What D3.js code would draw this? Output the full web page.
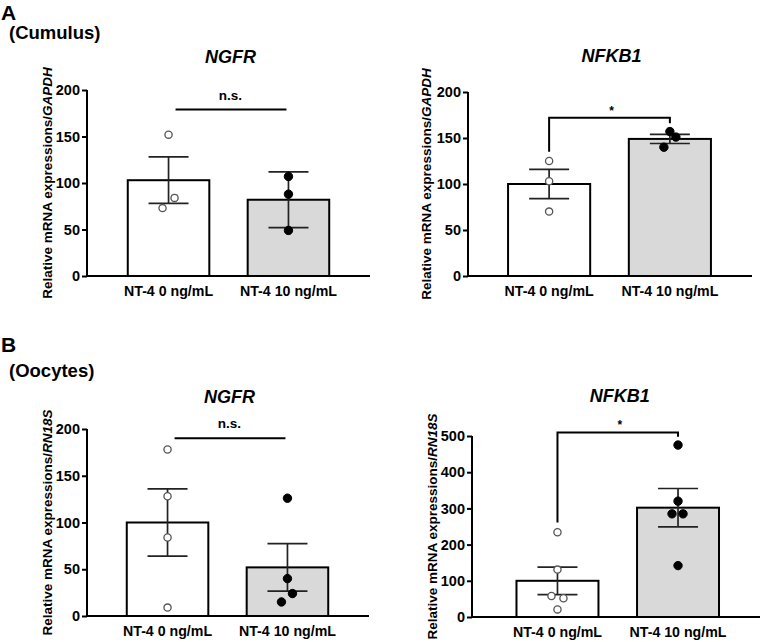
<!DOCTYPE html>
<html>
<head>
<meta charset="utf-8">
<script src="https://cdn.jsdelivr.net/npm/d3@7"></script>
<style>
  body { margin: 0; background: #fff; }
  svg text { font-family: "Liberation Sans", Arial, sans-serif; font-weight: bold; fill: #000; }
</style>
</head>
<body>
<div id="chart"></div>
<script>
// Groups on the x axis
var groups = ["NT-4 0 ng/mL", "NT-4 10 ng/mL"];

// (A) Cumulus - NGFR
var cumNgfrMean = [103, 82];
var cumNgfrSem = [25, 30];
var cumNgfrCtrlPts = [152, 84, 73];
var cumNgfrNt4Pts = [107, 88, 49];
var cumNgfrSig = ["n.s.", 179];

// (A) Cumulus - NFKB1
var cumNfkbMean = [100, 149];
var cumNfkbSem = [16, 5];
var cumNfkbCtrlPts = [125, 103, 70];
var cumNfkbNt4Pts = [157, 151, 140];
var cumNfkbSig = ["*", 172, 135, 166];

// (B) Oocytes - NGFR
var oocNgfrMean = [100, 52];
var oocNgfrSem = [36, 25.5];
var oocNgfrCtrlPts = [178, 128, 84, 9];
var oocNgfrNt4Pts = [126, 40, 24, 15];
var oocNgfrSig = ["n.s.", 190];

// (B) Oocytes - NFKB1
var oocNfkbMean = [100, 302];
var oocNfkbSem = [38, 53];
var oocNfkbCtrlPts = [234, 131, 58, 52, 21];
var oocNfkbNt4Pts = [475, 320, 285, 285, 142];
var oocNfkbSig = ["*", 510, 261, 498];

// Y ticks
var ticks200 = [0, 50, 100, 150, 200];
var ticks500 = [0, 100, 200, 300, 400, 500];

// Horizontal dodge of overlapping dots (pixels, layout only)
var cumNgfrJit = [[0, 6, -6], [0, 0, 0]];
var cumNfkbJit = [[0, 0, 0], [0, 6, -6]];
var oocNgfrJit = [[0, 0, 0, 0], [0, 0, 5, -6]];
var oocNfkbJit = [[0, 0, -6, 6, 0], [0, 0, -6, 5, 0]];

var width = 761, height = 642;

var svg = d3.select("#chart")
  .append("svg")
    .attr("width", width)
    .attr("height", height);

// Panel letters and tissue labels
svg.append("text").attr("x", 1).attr("y", 20).style("font-size", "21px").text("A");
svg.append("text").attr("x", 9).attr("y", 39).style("font-size", "18.5px").text("(Cumulus)");
svg.append("text").attr("x", 1).attr("y", 352).style("font-size", "21px").text("B");
svg.append("text").attr("x", 9).attr("y", 377).style("font-size", "18.5px").text("(Oocytes)");

var panels = [
  {title: "NGFR", ref: "GAPDH", mean: cumNgfrMean, sem: cumNgfrSem, pts: [cumNgfrCtrlPts, cumNgfrNt4Pts],
   jit: cumNgfrJit, sig: cumNgfrSig, ticks: ticks200,
   axisX: 87, band: [87, 370], y0: 276, y1: 90, titleY: 63, labelX: 52},
  {title: "NFKB1", ref: "GAPDH", mean: cumNfkbMean, sem: cumNfkbSem, pts: [cumNfkbCtrlPts, cumNfkbNt4Pts],
   jit: cumNfkbJit, sig: cumNfkbSig, ticks: ticks200,
   axisX: 468, band: [467, 752], y0: 276, y1: 92, titleY: 62, labelX: 431},
  {title: "NGFR", ref: "RN18S", mean: oocNgfrMean, sem: oocNgfrSem, pts: [oocNgfrCtrlPts, oocNgfrNt4Pts],
   jit: oocNgfrJit, sig: oocNgfrSig, ticks: ticks200,
   axisX: 87, band: [86, 369], y0: 616, y1: 429, titleY: 403, labelX: 52},
  {title: "NFKB1", ref: "RN18S", mean: oocNfkbMean, sem: oocNfkbSem, pts: [oocNfkbCtrlPts, oocNfkbNt4Pts],
   jit: oocNfkbJit, sig: oocNfkbSig, ticks: ticks500,
   axisX: 472, band: [475.5, 760], y0: 617, y1: 436, titleY: 402, labelX: 437}
];

panels.forEach(drawPanel);

function drawPanel(p) {
  var g = svg.append("g");

  var x = d3.scaleBand()
    .domain(groups)
    .range(p.band)
    .paddingInner(0.32)
    .paddingOuter(0.34);

  var y = d3.scaleLinear()
    .domain([0, d3.max(p.ticks)])
    .range([p.y0, p.y1]);

  var cx = function(i) { return x(groups[i]) + x.bandwidth() / 2; };

  // Bars
  g.selectAll(".bar")
    .data(p.mean)
    .enter().append("rect")
      .attr("x", function(d, i) { return x(groups[i]); })
      .attr("y", function(d) { return y(d); })
      .attr("width", x.bandwidth())
      .attr("height", function(d) { return y(0) - y(d); })
      .style("fill", function(d, i) { return i === 0 ? "#ffffff" : "#d9d9d9"; })
      .style("stroke", "#000")
      .style("stroke-width", 2);

  // Error bars (mean +/- SEM)
  p.mean.forEach(function(m, i) {
    var lo = y(m - p.sem[i]), hi = y(m + p.sem[i]), c = cx(i);
    g.append("line").attr("x1", c).attr("x2", c).attr("y1", lo).attr("y2", hi)
      .style("stroke", "#222").style("stroke-width", 1.7);
    [lo, hi].forEach(function(v) {
      g.append("line").attr("x1", c - 20).attr("x2", c + 20).attr("y1", v).attr("y2", v)
        .style("stroke", "#222").style("stroke-width", 1.7);
    });
  });

  // Individual points
  p.pts.forEach(function(vals, i) {
    g.selectAll(".pt" + i)
      .data(vals)
      .enter().append("circle")
        .attr("cx", function(d, j) { return cx(i) + p.jit[i][j]; })
        .attr("cy", function(d) { return y(d); })
        .attr("r", i === 0 ? 3.6 : 4.2)
        .style("fill", i === 0 ? "#fff" : "#000")
        .style("stroke", i === 0 ? "#555" : "#000")
        .style("stroke-width", i === 0 ? 1.3 : 1);
  });

  // Y axis
  var yAxis = g.append("g")
    .attr("transform", "translate(" + p.axisX + ",0)")
    .call(d3.axisLeft(y).tickValues(p.ticks).tickSize(5).tickPadding(2).tickFormat(d3.format("d")));
  yAxis.select(".domain").attr("d", "M0," + y(d3.max(p.ticks)) + "V" + y(0)).style("stroke-width", 2);
  yAxis.selectAll(".tick line").style("stroke-width", 2);
  yAxis.selectAll(".tick text").style("font-size", "14.5px").style("font-family", null);

  // X axis
  var xAxis = g.append("g")
    .attr("transform", "translate(0," + p.y0 + ")")
    .call(d3.axisBottom(x).tickSize(0).tickPadding(10));
  xAxis.select(".domain").attr("d", "M" + p.axisX + ",0H" + p.band[1]).style("stroke-width", 2);
  xAxis.selectAll(".tick text").style("font-size", "14.2px").style("font-family", null);

  // Title
  g.append("text")
    .attr("x", (cx(0) + cx(1)) / 2 + 2)
    .attr("y", p.titleY)
    .attr("text-anchor", "middle")
    .style("font-size", "18px")
    .style("font-style", "italic")
    .text(p.title);

  // Y label
  var lab = g.append("text")
    .attr("transform", "translate(" + p.labelX + "," + (p.y0 + p.y1) / 2 + ") rotate(-90)")
    .attr("text-anchor", "middle")
    .style("font-size", "13.5px");
  lab.append("tspan").text("Relative mRNA expressions/");
  lab.append("tspan").style("font-style", "italic").text(p.ref);

  // Significance
  var ly = y(p.sig[1]);
  if (p.sig.length === 2) {
    g.append("line").attr("x1", cx(0) + 7).attr("x2", cx(1) - 2).attr("y1", ly).attr("y2", ly)
      .style("stroke", "#000").style("stroke-width", 2);
    g.append("text").attr("x", (cx(0) + cx(1)) / 2 + 2).attr("y", ly - 10)
      .attr("text-anchor", "middle").style("font-size", "13.5px").text(p.sig[0]);
  } else {
    g.append("path")
      .attr("d", "M" + cx(0) + "," + y(p.sig[2]) + "V" + ly + "H" + cx(1) + "V" + y(p.sig[3]))
      .style("fill", "none").style("stroke", "#000").style("stroke-width", 2);
    g.append("text").attr("x", (cx(0) + cx(1)) / 2 + 2).attr("y", ly - 3)
      .attr("text-anchor", "middle").style("font-size", "12px").text(p.sig[0]);
  }
}
</script>
</body>
</html>
